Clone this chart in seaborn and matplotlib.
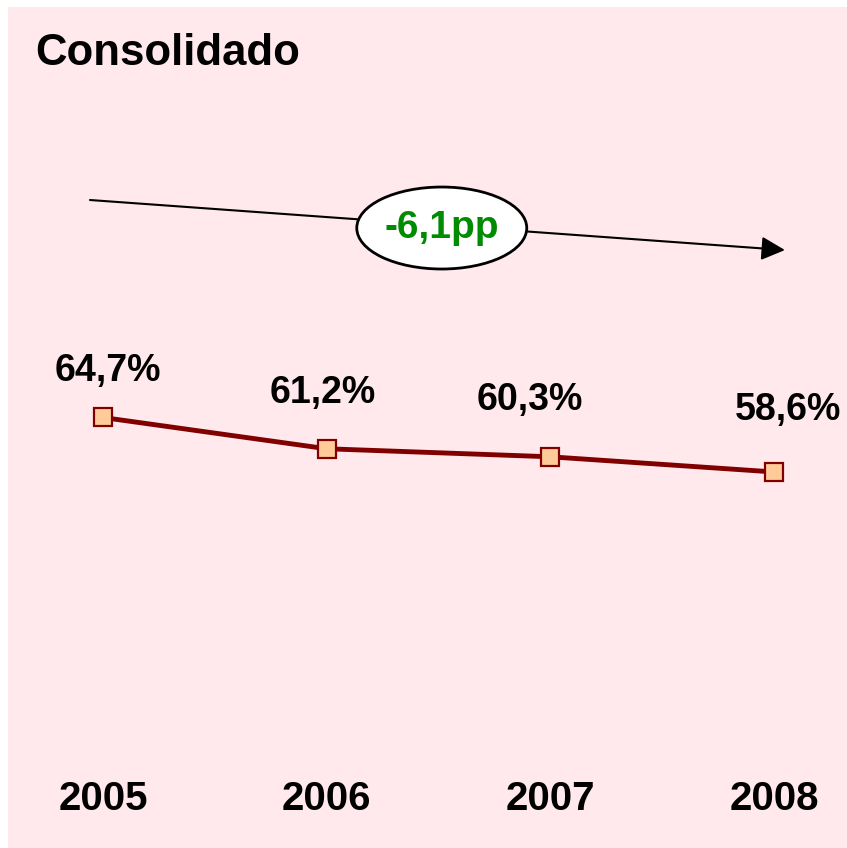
import numpy as np
import pandas as pd
import matplotlib.pyplot as plt
from matplotlib.patches import Ellipse
import seaborn as sns

# data
years = ["2005", "2006", "2007", "2008"]
values = [64.7, 61.2, 60.3, 58.6]
value_labels = ["64,7%", "61,2%", "60,3%", "58,6%"]
title = "Consolidado"
change_label = "-6,1pp"

# label placement (pixels from each point), layout only
label_offsets = [(5, 36), (-4, 46), (-21, 47), (14, 52)]

BG = "#FFE9ED"
LINE = "#800000"
MARKER = "#FFCC99"
GREEN = "#008C00"

FONT = ["Liberation Sans", "DejaVu Sans"]


def main():
    sns.set_style("white")
    plt.rcParams["font.family"] = FONT

    df = pd.DataFrame({"pos": np.arange(len(years)), "value": values})

    fig = plt.figure(figsize=(8.47, 8.48), dpi=100, facecolor="white")
    ax = fig.add_axes([8 / 847, 0, 839 / 847, 841 / 848])
    ax.set_facecolor(BG)

    sns.lineplot(data=df, x="pos", y="value", ax=ax, color=LINE, linewidth=3.5,
                 marker="s", markersize=13.5, markerfacecolor=MARKER,
                 markeredgecolor=LINE, markeredgewidth=1.6)

    ax.set_xlim(-0.4247, 3.3264)
    ax.set_ylim(16.49, 110.67)
    ax.set_xticks([])
    ax.set_yticks([])
    ax.set_xlabel("")
    ax.set_ylabel("")
    for s in ax.spines.values():
        s.set_visible(False)

    # value labels above the points
    for x, y, lab, off in zip(df["pos"], df["value"], value_labels, label_offsets):
        ax.annotate(lab, xy=(x, y), xytext=off, textcoords="offset pixels",
                    ha="center", va="baseline", fontsize=27, fontweight="bold",
                    color="black")

    # year labels along the bottom
    trans = ax.get_xaxis_transform()
    for x, yr in zip(df["pos"], years):
        ax.text(x, 0.0452, yr, transform=trans, ha="center", va="baseline",
                fontsize=29, fontweight="bold", color="black")

    ax.text(0.0322, 0.931, title, transform=ax.transAxes, ha="left",
            va="baseline", fontsize=31.5, fontweight="bold", color="black")

    # trend arrow with the change bubble
    ax.annotate("", xy=(0.926, 0.711), xytext=(0.0977, 0.7705),
                xycoords="axes fraction", textcoords="axes fraction",
                arrowprops=dict(arrowstyle="-|>", color="black", lw=1.5,
                                mutation_scale=36, shrinkA=0, shrinkB=0))
    ax.add_patch(Ellipse((0.517, 0.7372), 0.2026, 0.0975, transform=ax.transAxes,
                         facecolor="white", edgecolor="black", lw=2, zorder=5))
    ax.text(0.517, 0.7372, change_label, transform=ax.transAxes, ha="center",
            va="center", fontsize=28, fontweight="bold", color=GREEN, zorder=6)

    fig.savefig("out.png", dpi=100, facecolor=fig.get_facecolor())


if __name__ == "__main__":
    main()
